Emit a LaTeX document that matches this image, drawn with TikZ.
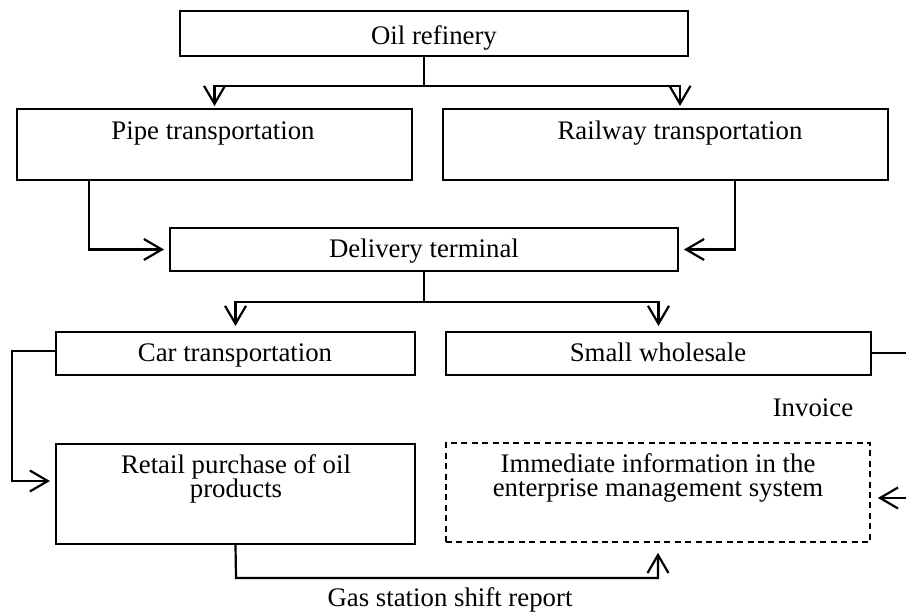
\documentclass[tikz,border=0pt]{standalone}
\usepackage{fontspec}
\setmainfont{Liberation Serif}
\usetikzlibrary{arrows.meta}
\begin{document}
\begin{tikzpicture}[x=0.5pt,y=-0.5pt,
  box/.style={draw,line width=1pt,inner sep=0pt,minimum width=#1},
  dbox/.style={draw,line width=0.85pt,dash pattern=on 3pt off 2.2pt,inner sep=0pt,minimum width=#1},
  lbl/.style={anchor=base,inner sep=0pt,font=\fontsize{13.4}{12}\selectfont},
  conn/.style={line width=1.1pt},
  arr/.style={line width=1.1pt,-{Straight Barb[length=9pt,width=10.5pt,line width=1.1pt]},shorten >=1pt}]
\useasboundingbox (0,0) rectangle (906,613);
% boxes
\node[box=254pt,minimum height=22.5pt] (ref) at (434,33.5) {};
\node[box=197.5pt,minimum height=35.5pt] (pipe) at (214.5,144.5) {};
\node[box=222.5pt,minimum height=35.5pt] (rail) at (665.5,144.5) {};
\node[box=254pt,minimum height=21.5pt] (del) at (424,249.5) {};
\node[box=179.5pt,minimum height=21.5pt] (car) at (235.5,353.5) {};
\node[box=212.5pt,minimum height=21.5pt] (small) at (658.5,353.5) {};
\node[box=179.5pt,minimum height=50pt] (retail) at (235.5,494) {};
\node[dbox=212pt,minimum height=49.5pt] (imm) at (658,492.5) {};
% texts
\node[lbl] (tref) at (434,45) {Oil refinery};
\node[lbl] (tpipe) at (213,140) {Pipe transportation};
\node[lbl] (trail) at (680,140) {Railway transportation};
\node[lbl] (tdel) at (424,258) {Delivery terminal};
\node[lbl] (tcar) at (235,362) {Car transportation};
\node[lbl] (tsmall) at (658,362) {Small wholesale};
\node[lbl] (tinv) at (813,417) {Invoice};
\node[lbl] (tret1) at (236,474) {Retail purchase of oil};
\node[lbl] (tret2) at (236,498) {products};
\node[lbl] (timm1) at (658,473) {Immediate information in the};
\node[lbl] (timm2) at (658,497) {enterprise management system};
\node[lbl] (tgas) at (450,607) {Gas station shift report};
% junction coordinates
\coordinate (j1) at (424,86);
\coordinate (jr) at (680,86);
\coordinate (jp) at (89,0);
\coordinate (jrl) at (735,0);
\coordinate (j2) at (424,302);
\coordinate (jc) at (12,351);
\coordinate (jcr) at (12,481);
\coordinate (jse) at (906,353);
\coordinate (jin) at (906,498);
\coordinate (jg) at (236,578);
\coordinate (jg2) at (658,578);
% connectors
\draw[conn] (ref.south -| j1) -- (j1);
\draw[arr] (j1) -| (pipe.north);
\draw[arr] (j1) -- (jr) -- (rail.north -| jr);
\draw[arr,shorten >=2.5pt] (pipe.south -| jp) |- (del.west);
\draw[arr,shorten >=2.5pt] (rail.south -| jrl) |- (del.east);
\draw[conn] (del.south -| j2) -- (j2);
\draw[arr,shorten >=2.5pt] (j2) -| (car.north);
\draw[arr,shorten >=2.5pt] (j2) -| (small.north);
\draw[arr,shorten >=2.5pt] (car.west |- jc) -- (jc) -- (jcr) -- (retail.west |- jcr);
\draw[conn] (small.east |- jse) -- (jse);
\draw[arr,shorten >=3.5pt] (jin) -- (imm.east |- jin);
\draw[arr,shorten >=5pt] (retail.south) -- (jg) -- (jg2) -- (imm.south -| jg2);
\end{tikzpicture}
\end{document}
